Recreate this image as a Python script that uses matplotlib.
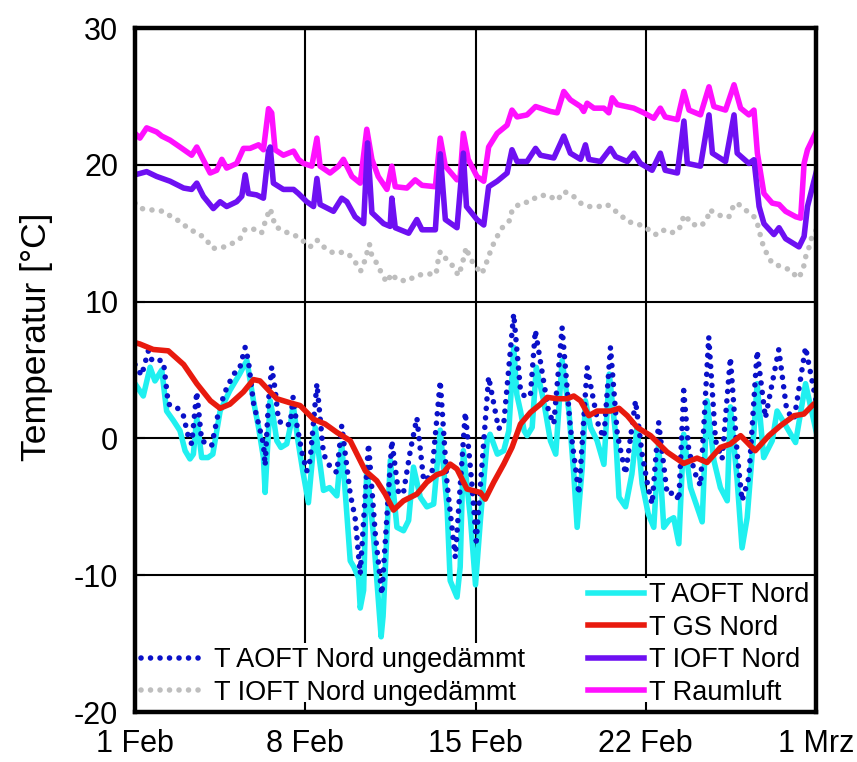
import matplotlib
matplotlib.use("Agg")
import matplotlib.pyplot as plt

plt.rcParams['font.family'] = ['Liberation Sans', 'DejaVu Sans']
plt.rcParams['axes.unicode_minus'] = False

# ---------------- data (days since 1 Feb 00:00) ----------------
x_ticks = [0, 7, 14, 21, 28]
x_labels = ['1 Feb', '8 Feb', '15 Feb', '22 Feb', '1 Mrz']
y_ticks = [-20, -10, 0, 10, 20, 30]

aoft_t = [0.0, 0.34, 0.62, 0.82, 1.1, 1.3, 1.58, 1.85, 2.06, 2.26, 2.4, 2.54, 2.74, 3.0, 3.2, 3.5, 3.9, 4.3, 4.6,
          4.87, 5.08, 5.28, 5.35, 5.42, 5.56, 5.69, 5.83, 6.0, 6.24, 6.38, 6.5, 6.7, 6.9, 7.13, 7.41, 7.75, 8.0,
          8.3, 8.5, 8.85, 9.0, 9.19, 9.26, 9.4, 9.53, 9.8, 10.12, 10.2, 10.5, 10.77, 11.04, 11.25, 11.45, 11.73,
          12.0, 12.28, 12.55, 12.83, 12.96, 13.24, 13.37, 13.5, 13.79, 14.0, 14.2, 14.48, 14.6, 14.9, 15.16,
          15.37, 15.57, 15.7, 15.85, 16.0, 16.12, 16.33, 16.5, 16.8, 17.08, 17.3, 17.42, 17.56, 17.84, 18.04,
          18.18, 18.39, 18.52, 18.73, 19.0, 19.28, 19.5, 19.76, 19.9, 20.17, 20.43, 20.64, 20.85, 21.1, 21.33,
          21.53, 21.74, 21.95, 22.15, 22.36, 22.56, 22.84, 23.11, 23.32, 23.52, 23.8, 24.07, 24.35, 24.48,
          24.76, 24.96, 25.17, 25.44, 25.58, 25.85, 26.2, 26.4, 26.8, 27.16, 27.57, 28.0]
aoft_v = [4.0, 3.1, 5.2, 4.2, 5.0, 2.0, 1.3, 0.56, -0.9, -1.5, -1.15, 1.5, -1.4, -1.4, -1.15, 2.0, 3.5, 4.7, 5.7,
          2.75, 0.8, -1.4, -3.95, -1.6, 2.75, 1.5, -0.17, -0.66, -0.4, 0.8, 2.5, -0.17, -2.4, -4.7, 0.8, -3.8, -3.6,
          -4.2, -0.4, -8.95, -9.4, -10.2, -12.4, -11.1, -2.1, -7.0, -14.5, -13.0, -1.6, -6.5, -6.75, -6.0, -2.1, -4.3,
          -5.0, -4.8, 0.6, -5.0, -10.4, -11.6, -9.4, -0.9, -5.8, -10.7, -6.0, -0.17, 0.3, -1.15, -0.9,
          0.56, 6.66, 3.2, 2.0, 0.56, 0.2, 0.8, 5.2, 2.75, -0.17, -1.15, 2.0, 5.7, 2.0, -2.6,
          -6.5, -2.1, 2.75, 0.8, -0.17, -1.9, 4.7, 0.3, -4.3, -5.0, -2.6, 0.8, -3.3, -5.5, -6.5,
          -0.4, -6.5, -6.0, -5.8, -7.7, 0.3, -3.6, -5.0, -6.1, 2.75, -1.6, -3.6, -4.56, 2.3,
          -3.1, -8.0, -5.8, 0.3, 4.0, -1.4, -0.17, 2.0, 0.8, -0.3, 4.0, 0.56]

aoft_u_t = [0.0, 0.27, 0.55, 0.7, 0.89, 1.17, 1.37, 1.71, 1.99, 2.2, 2.33, 2.54, 2.74, 3.15, 3.43, 3.7, 4.05, 4.3,
            4.53, 4.66, 4.87, 5.08, 5.28, 5.35, 5.49, 5.62, 5.76, 5.9, 6.17, 6.38, 6.5, 6.65, 6.86, 7.06, 7.2,
            7.48, 7.75, 8.0, 8.3, 8.5, 8.85, 9.05, 9.26, 9.6, 9.88, 10.15, 10.56, 10.84, 11.04, 11.32, 11.59,
            11.87, 12.2, 12.55, 12.83, 13.17, 13.58, 13.85, 14.03, 14.54, 14.95, 15.16, 15.57, 15.85, 16.05,
            16.26, 16.46, 17.0, 17.22, 17.56, 17.9, 18.25, 18.59, 19.07, 19.28, 19.55, 19.83, 20.17, 20.58,
            20.85, 21.1, 21.26, 21.53, 21.88, 22.22, 22.36, 22.56, 22.77, 23.04, 23.25, 23.59, 23.87, 24.14,
            24.48, 24.76, 24.96, 25.24, 25.58, 25.92, 26.47, 26.8, 27.1, 27.57, 28.0]
aoft_u_v = [5.4, 4.6, 6.4, 5.7, 5.8, 5.6, 2.5, 2.3, 1.66, 0.07, -0.4, 3.4, -0.17, -0.54, 1.9, 3.4, 4.7, 5.1,
            6.66, 5.7, 2.6, 1.05, -0.4, -2.0, 2.75, 5.2, 3.6, 1.3, 0.93, 1.05, 3.0, 1.05, -1.0, -2.4, -1.6,
            4.0, -1.15, -2.0, -2.5, 0.93, -4.07, -5.8, -9.9, -0.4, -7.0, -11.4, -0.17, -4.07, -3.95, -0.9, 1.5,
            -3.1, -2.7, 4.2, -3.3, -8.7, 1.9, -3.3, -7.5, 4.5, 0.7, 1.05, 9.1, 3.5, 3.0,
            3.2, 7.9, 2.0, 1.05, 8.1, 0.8, -4.07, 5.2, 0.8, 0.07, 6.66, 0.3, -2.6, 2.75,
            -1.15, -3.6, -4.8, 1.17, -4.07, -3.95, -4.56, 3.5, -0.9, -2.6, -3.46, 7.4, -0.17, -1.5,
            5.9, -1.15, -4.56, -2.85, 6.4, 1.5, 6.5, 2.0, 1.4, 6.66, 2.75]

gs_t = [0.0, 0.2, 0.75, 1.37, 2.0, 2.54, 3.1, 3.5, 3.9, 4.46, 4.87, 5.14, 5.56, 5.83, 6.38, 6.79, 7.34, 7.82,
        8.3, 8.85, 9.47, 9.94, 10.29, 10.63, 11.04, 11.59, 12.0, 12.4, 12.69, 12.96, 13.24, 13.65, 14.2, 14.4,
        14.75, 15.16, 15.5, 15.85, 16.26, 16.67, 16.95, 17.36, 17.77, 18.04, 18.32, 18.66, 19.0, 19.55, 19.9,
        20.24, 20.65, 21.2, 21.88, 22.56, 23.11, 23.52, 24.07, 24.48, 24.9, 25.17, 25.5, 26.06, 26.54, 27.1,
        27.5, 27.9, 28.0]
gs_v = [7.0, 6.9, 6.5, 6.4, 5.4, 4.0, 2.75, 2.2, 2.5, 3.4, 4.3, 4.2, 3.4, 2.9, 2.6, 2.4, 1.4, 1.05,
        0.44, -0.17, -2.37, -3.1, -4.07, -5.24, -4.56, -4.07, -3.2, -2.66, -2.49, -1.88, -2.24, -3.7, -3.95, -4.44,
        -3.2, -1.88, -0.66, 1.05, 1.9, 2.5, 3.0, 2.9, 2.9, 3.1, 2.75, 1.66, 2.0, 2.0, 2.2,
        1.66, 0.8, 0.2, -1.0, -1.83, -1.44, -1.76, -0.66, -0.41, 0.2, -0.29, -0.9, 0.2, 0.93, 1.66,
        1.78, 2.5, 2.6]

ioft_t = [0.0, 0.48, 0.89, 1.44, 2.0, 2.33, 2.54, 2.81, 3.22, 3.5, 3.77, 4.18, 4.39, 4.53, 4.66, 5.0, 5.28, 5.49,
          5.56, 5.69, 6.1, 6.52, 6.72, 7.06, 7.34, 7.48, 7.61, 8.16, 8.5, 8.71, 9.05, 9.4, 9.56, 9.74, 10.22,
          10.49, 10.56, 10.7, 11.25, 11.59, 11.8, 12.35, 12.55, 12.76, 13.24, 13.5, 13.63, 14.06, 14.34, 14.54,
          14.89, 15.3, 15.5, 15.71, 16.12, 16.47, 16.67, 17.22, 17.63, 17.9, 18.32, 18.52, 18.66, 19.14, 19.55,
          19.76, 20.24, 20.51, 20.78, 21.26, 21.6, 21.8, 22.3, 22.57, 22.71, 23.25, 23.6, 23.74, 24.28, 24.63,
          24.76, 25.24, 25.45, 25.66, 25.86, 26.27, 26.48, 26.75, 27.3, 27.51, 27.65, 28.0]
ioft_v = [19.27, 19.5, 19.15, 18.8, 18.3, 18.2, 18.66, 17.7, 16.8, 17.3, 16.95, 17.3, 17.7, 19.27, 17.9, 17.8, 17.56, 21.0,
          21.3, 18.66, 18.2, 18.2, 17.9, 17.3, 16.95, 19.0, 17.1, 16.6, 17.56, 17.3, 16.2, 15.7, 21.6, 16.5, 15.7,
          15.5, 17.56, 15.4, 15.0, 16.0, 15.25, 15.25, 20.8, 16.0, 15.4, 20.85, 16.95, 16.0, 15.6, 18.4,
          18.8, 19.4, 21.1, 20.24, 20.24, 21.2, 20.7, 20.5, 22.1, 20.85, 20.4, 21.46, 20.4, 20.24, 21.2,
          20.6, 20.24, 20.85, 20.1, 19.6, 20.85, 19.6, 19.4, 23.2, 20.1, 19.9, 23.65, 20.85, 20.24, 23.65,
          20.85, 20.1, 20.37, 16.95, 15.7, 14.9, 15.4, 14.6, 14.0, 14.76, 16.95, 19.4]

raum_t = [0.0, 0.2, 0.48, 0.89, 1.1, 1.44, 1.85, 2.33, 2.54, 2.74, 3.09, 3.36, 3.57, 3.77, 4.18, 4.46, 4.73, 5.08,
          5.28, 5.49, 5.62, 5.76, 6.1, 6.52, 6.72, 6.93, 7.27, 7.48, 7.61, 8.02, 8.37, 8.57, 8.92, 9.26, 9.53,
          9.74, 10.0, 10.36, 10.56, 10.7, 11.18, 11.52, 11.8, 12.35, 12.55, 12.76, 13.24, 13.37, 13.5, 13.7,
          14.06, 14.34, 14.54, 14.89, 15.3, 15.5, 15.71, 16.12, 16.47, 17.08, 17.36, 17.63, 17.9, 18.32, 18.45,
          18.59, 18.87, 19.28, 19.48, 19.62, 19.83, 20.51, 20.92, 21.33, 21.6, 21.8, 22.3, 22.57, 22.78, 23.25,
          23.6, 23.8, 24.28, 24.63, 24.9, 25.24, 25.45, 25.59, 25.86, 26.2, 26.48, 26.75, 27.17, 27.37, 27.51,
          27.65, 28.0]
raum_v = [22.3, 21.95, 22.7, 22.4, 22.1, 21.8, 21.3, 20.7, 21.3, 20.6, 19.4, 19.6, 20.4, 19.76, 20.1, 21.2, 21.2, 21.46,
          21.1, 24.1, 23.8, 21.1, 20.7, 21.0, 20.4, 20.1, 19.9, 21.95, 19.9, 19.4, 19.9, 20.4, 19.15, 18.66, 22.6,
          20.4, 19.15, 18.2, 19.9, 18.4, 18.3, 18.9, 18.5, 18.4, 21.95, 19.9, 18.9, 19.15, 22.3, 20.4,
          19.15, 18.8, 21.3, 22.3, 22.9, 24.0, 23.5, 23.65, 24.26, 23.9, 23.8, 25.36, 24.75, 24.26, 23.9,
          24.5, 24.14, 24.14, 23.8, 24.9, 24.4, 24.14, 23.8, 23.4, 24.14, 23.5, 23.3, 25.36, 24.0, 23.65,
          25.7, 24.26, 24.0, 25.85, 24.14, 23.65, 24.0, 20.85, 17.9, 17.2, 17.1, 16.6, 16.2, 16.1, 20.1,
          21.1, 22.4]

ioft_u_t = [0.0, 0.27, 0.69, 1.17, 1.5, 1.85, 2.26, 2.6, 2.95, 3.16, 3.5, 3.9, 4.32, 4.53, 4.87, 5.2, 5.42, 5.56,
            5.69, 5.76, 6.17, 6.52, 6.8, 7.2, 7.48, 7.82, 8.16, 8.5, 8.77, 9.05, 9.28, 9.43, 9.64, 9.73, 9.94,
            10.15, 10.35, 10.56, 10.76, 11.2, 11.55, 11.96, 12.38, 12.44, 12.55, 12.8, 13.07, 13.3, 13.44, 13.62,
            13.75, 13.99, 14.26, 14.4, 14.54, 14.68, 14.89, 15.1, 15.44, 15.5, 15.85, 16.26, 16.53, 16.95, 17.36,
            17.63, 17.97, 18.32, 18.66, 19.07, 19.41, 19.69, 19.96, 20.24, 20.65, 21.0, 21.4, 21.68, 22.02, 22.37,
            22.5, 22.64, 22.84, 23.25, 23.53, 23.6, 23.87, 24.15, 24.42, 24.63, 24.76, 25.1, 25.45, 25.59, 25.79,
            26.0, 26.2, 26.55, 26.96, 27.25, 27.45, 27.58, 27.72, 27.85, 28.0]
ioft_u_v = [17.2, 16.8, 16.7, 16.6, 16.2, 15.85, 15.25, 15.0, 14.5, 13.9, 13.9, 14.15, 14.6, 15.3, 15.3, 15.0, 16.2, 16.8,
            16.0, 15.5, 15.1, 14.9, 14.6, 14.0, 14.5, 13.9, 13.55, 13.6, 13.5, 12.9, 12.25, 12.9, 14.2, 13.4, 12.8,
            12.03, 11.4, 12.05, 11.6, 11.5, 11.9, 12.03, 12.0, 12.8, 13.66, 13.1, 12.6, 11.9, 12.65, 13.97,
            13.25, 12.6, 12.03, 12.6, 13.3, 14.0, 14.76, 15.4, 16.0, 16.7, 17.2, 17.3, 17.7, 17.8, 17.4,
            18.05, 17.8, 17.2, 16.95, 16.95, 17.1, 16.7, 16.35, 15.85, 15.7, 15.4, 14.9, 15.25, 15.0, 15.25,
            16.0, 16.35, 15.7, 15.5, 16.0, 16.7, 16.5, 16.2, 16.2, 17.1, 17.2, 16.7, 16.2, 15.7, 14.3,
            13.4, 12.8, 12.57, 12.3, 11.7, 12.2, 13.3, 14.0, 14.9, 15.2]

labels_solid = ['T AOFT Nord', 'T GS Nord', 'T IOFT Nord', 'T Raumluft']
labels_dotted = ['T AOFT Nord ungedämmt', 'T IOFT Nord ungedämmt']

# ---------------- styles ----------------
c_aoft = '#20F0F0'
c_gs = '#E81A0E'
c_ioft = '#6E10F2'
c_raum = '#FF10FF'
c_aoft_u = '#0A10C8'
c_ioft_u = '#BEBEBE'
lw = 4.0
lw_dot = 4.0
dots = (0, (0.01, 1.7))

fig = plt.figure(figsize=(8.57, 7.62), dpi=100)
ax = fig.add_axes([135 / 857, 1 - 712 / 762, (816 - 135) / 857, (712 - 28) / 762])

for yv in y_ticks[1:-1]:
    ax.axhline(yv, color='black', lw=1.5, zorder=0.5)
for xv in x_ticks[1:-1]:
    ax.axvline(xv, color='black', lw=1.5, zorder=0.5)

l_raum, = ax.plot(raum_t, raum_v, color=c_raum, lw=lw, zorder=2, solid_joinstyle='round')
l_ioft, = ax.plot(ioft_t, ioft_v, color=c_ioft, lw=lw, zorder=2.1, solid_joinstyle='round')
l_ioftu, = ax.plot(ioft_u_t, ioft_u_v, color=c_ioft_u, lw=lw_dot, ls=dots,
                   dash_capstyle='round', zorder=2)
l_aoft, = ax.plot(aoft_t, aoft_v, color=c_aoft, lw=lw, zorder=2, solid_joinstyle='round')
l_aoftu, = ax.plot(aoft_u_t, aoft_u_v, color=c_aoft_u, lw=lw_dot, ls=dots,
                   dash_capstyle='round', zorder=2.2)
l_gs, = ax.plot(gs_t, gs_v, color=c_gs, lw=lw, zorder=2.3, solid_joinstyle='round')

ax.set_xlim(x_ticks[0], x_ticks[-1])
ax.set_ylim(y_ticks[0], y_ticks[-1])
ax.set_xticks(x_ticks)
ax.set_xticklabels(x_labels)
ax.set_yticks(y_ticks)
ax.tick_params(axis='both', direction='in', length=7, width=1.5, labelsize=22, pad=12)
ax.set_ylabel('Temperatur [°C]', fontsize=25.5)
ax.yaxis.set_label_coords(-0.12, 0.548)
for s in ax.spines.values():
    s.set_linewidth(3.2)
    s.set_zorder(10)
ax.xaxis.set_zorder(8)
ax.yaxis.set_zorder(8)

leg1 = ax.legend([l_aoft, l_gs, l_ioft, l_raum], labels_solid, loc='lower right',
                 bbox_to_anchor=(1.0, 0.0), fontsize=19.5, frameon=True, fancybox=False,
                 edgecolor='none', facecolor='white', framealpha=1.0,
                 handlelength=2.05, handletextpad=0.2, labelspacing=0.24,
                 borderpad=0.15, borderaxespad=0.08)
leg1.set_zorder(6)
ax.add_artist(leg1)
leg2 = ax.legend([l_aoftu, l_ioftu], labels_dotted, loc='lower left',
                 bbox_to_anchor=(0.0, 0.0), fontsize=19.5, frameon=True, fancybox=False,
                 edgecolor='none', facecolor='white', framealpha=1.0,
                 handlelength=2.4, handletextpad=0.3, labelspacing=0.24,
                 borderpad=0.15, borderaxespad=0.08)
leg2.set_zorder(6)

fig.savefig('out.png', dpi=100)
